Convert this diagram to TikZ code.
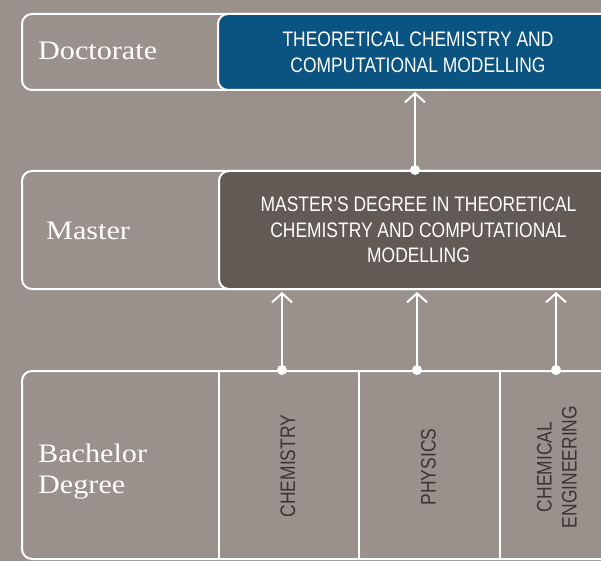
\documentclass[tikz,border=0pt]{standalone}
\usepackage{fontspec}
\usetikzlibrary{arrows.meta}
\newfontfamily\capsfont[FakeStretch=0.83]{Liberation Sans}
\newfontfamily\levelfont[FakeStretch=1.13]{Liberation Serif}
\definecolor{bgcol}{HTML}{9A918C}
\definecolor{phdblue}{HTML}{0B5380}
\definecolor{mscgray}{HTML}{625A54}
\definecolor{bscink}{HTML}{3B3431}

\begin{document}
\begin{tikzpicture}[x=1pt, y=-1pt,
	rowbox/.style={draw=white, line width=2pt, rounded corners=10pt, anchor=north west, inner sep=0pt},
	progbox/.style={rowbox, text=white, font=\capsfont\fontsize{21}{25.7}\selectfont, align=center},
	colbox/.style={draw=white, line width=2pt, anchor=north west, inner sep=0pt, minimum height=188pt},
	level/.style={text=white, inner sep=0pt, font=\levelfont\fontsize{26.7}{31.6}\selectfont, align=left},
	subject/.style={text=bscink, rotate=90, inner sep=0pt, font=\capsfont\fontsize{21}{25}\selectfont, align=center},
	dot/.style={circle, fill=white, inner sep=0pt, minimum size=10pt},
	up/.style={draw=white, line width=2pt, -{Straight Barb[length=9pt, width=20pt, line width=2pt]}}
]
	\useasboundingbox (0,0) rectangle (601,561);
	\clip (0,0) rectangle (601,561);
	\fill[bgcol] (0,0) rectangle (601,561);

	\node[rowbox, minimum width=596pt, minimum height=76pt] (R1-00) at ( 21, 13) {};
	\node[progbox, fill=phdblue, minimum width=400pt, minimum height=76pt] (R1-P00) at (217, 13) {THEORETICAL CHEMISTRY AND\\COMPUTATIONAL MODELLING};

	\node[rowbox, minimum width=596pt, minimum height=118pt] (R2-00) at ( 21,170) {};
	\node[progbox, fill=mscgray, minimum width=399pt, minimum height=118pt] (R2-P00) at (218,170) {MASTER’S DEGREE IN THEORETICAL\\CHEMISTRY AND COMPUTATIONAL\\MODELLING};

	\node[rowbox, minimum width=596pt, minimum height=188pt] (R3-00) at ( 21,370) {};
	\node[colbox, minimum width=140pt] (R3-C00) at (218,370) {};
	\node[colbox, minimum width=141pt] (R3-C01) at (358,370) {};
	\node[colbox, minimum width=118pt] (R3-C02) at (499,370) {};

	\node[level, anchor=base west] (R1-L) at ( 38, 60) {Doctorate};
	\node[level, anchor=base west] (R2-L) at ( 46,239) {Master};
	\node[level, anchor=west] (R3-L) at ( 38,471.5) {Bachelor\\Degree};

	\node[subject] (R3-S00) at (288  ,466) {CHEMISTRY};
	\node[subject] (R3-S01) at (428.5,467) {PHYSICS};
	\node[subject] (R3-S02) at (557  ,467) {CHEMICAL\\ENGINEERING};

	\node[dot] (R2-D00) at (415,170) {};
	\node[dot] (R3-D00) at (282,370) {};
	\node[dot] (R3-D01) at (417,370) {};
	\node[dot] (R3-D02) at (556,370) {};

	\coordinate (R1-T00) at (415, 92);
	\coordinate (R2-T00) at (282,292);
	\coordinate (R2-T01) at (417,292);
	\coordinate (R2-T02) at (556,292);

	\draw[up] (R2-D00.center) to (R1-T00);

	\draw[up] (R3-D00.center) to (R2-T00);
	\draw[up] (R3-D01.center) to (R2-T01);
	\draw[up] (R3-D02.center) to (R2-T02);

\end{tikzpicture}
\end{document}
